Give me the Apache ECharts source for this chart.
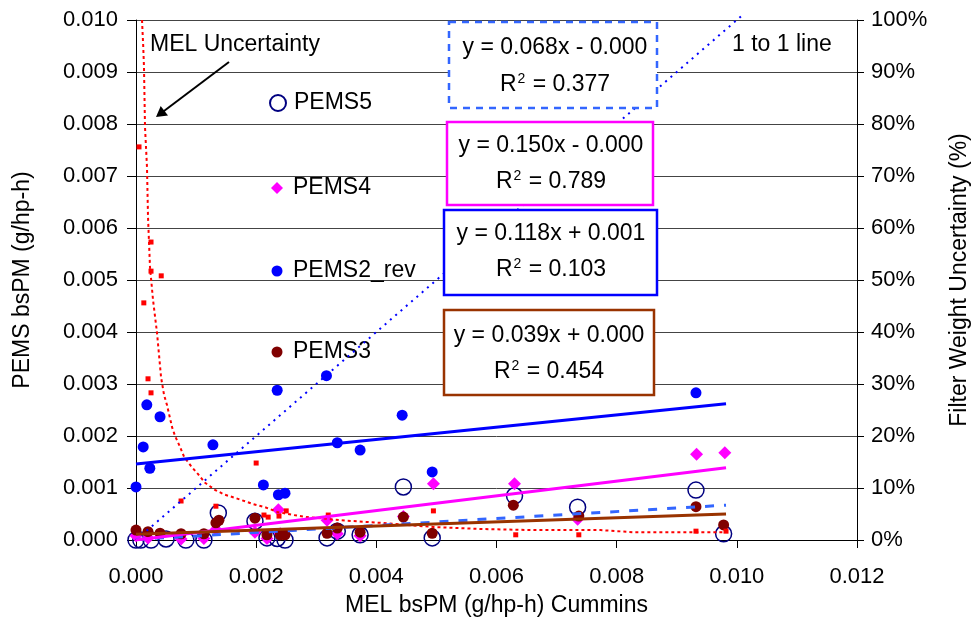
<!DOCTYPE html>
<html>
<head>
<meta charset="utf-8">
<script src="https://cdn.jsdelivr.net/npm/echarts@6.0.0/dist/echarts.min.js"></script>
<style>
  html, body { margin: 0; padding: 0; background: #fff; }
  #chart { width: 977px; height: 633px; }
</style>
</head>
<body>
<div id="chart"></div>
<script>
// PEMS vs MEL bsPM (g/hp-h)
const pems5 = [
  [0.0000, 0.00000], [0.00008, 0.00000], [0.00025, 0.00000], [0.0005, 0.00002],
  [0.00083, 0.00000], [0.00113, 0.00000], [0.00137, 0.00052], [0.00198, 0.00036],
  [0.00218, 0.00004], [0.00235, 0.00003], [0.00248, 0.00000], [0.00318, 0.00004],
  [0.00335, 0.00017], [0.00373, 0.0001], [0.00445, 0.00102], [0.00493, 0.00004],
  [0.0063, 0.00085], [0.00735, 0.00063], [0.00932, 0.00096], [0.00978, 0.00012]
]
const pems4 = [
  [0.0000, 0.00008], [0.0002, 0.00004], [0.00075, 0.00002], [0.00113, 0.00003],
  [0.00133, 0.0002], [0.00198, 0.00015], [0.00218, 0.00003], [0.00237, 0.00058],
  [0.0024, 0.00012], [0.00318, 0.00038], [0.00335, 0.00012], [0.00373, 0.00008],
  [0.00445, 0.00045], [0.00495, 0.00108], [0.0063, 0.00108], [0.00735, 0.0004],
  [0.00933, 0.00165], [0.0098, 0.00168]
]
const pems2rev = [
  [0.0000, 0.00102], [0.00012, 0.00179], [0.00018, 0.0026], [0.00023, 0.00138],
  [0.0004, 0.00237], [0.00128, 0.00183], [0.00212, 0.00106], [0.00235, 0.00288],
  [0.00237, 0.00087], [0.00248, 0.0009], [0.00317, 0.00316], [0.00335, 0.00187],
  [0.00373, 0.00173], [0.00443, 0.0024], [0.00493, 0.00131], [0.00932, 0.00283]
]
const pems3 = [
  [0.0000, 0.00019], [0.0002, 0.00016], [0.0004, 0.00013], [0.00075, 0.00012],
  [0.00113, 0.00012], [0.00133, 0.00033], [0.00138, 0.00038], [0.00198, 0.00042],
  [0.00218, 0.0001], [0.0024, 0.0001], [0.00248, 0.0001], [0.00318, 0.00013],
  [0.00335, 0.00023], [0.00373, 0.00015], [0.00445, 0.00044], [0.00493, 0.00013],
  [0.00628, 0.00067], [0.00737, 0.00046], [0.00932, 0.00064], [0.00978, 0.00029]
]

// trend lines (end points)
const trend5 = [[0, 0.00001], [0.00982, 0.00067]]
const trend4 = [[0, 0.0000], [0.00982, 0.00139]]
const trend2 = [[0, 0.00146], [0.00982, 0.00262]]
const trend3 = [[0, 0.00011], [0.00982, 0.0005]]
const oneToOne = [[0, 0], [0.0101, 0.0101]]

// filter weight uncertainty (%), right axis
const melUncert = [
  [0.00005, 75.6], [0.00013, 45.6], [0.0002, 31], [0.00025, 57.3], [0.00025, 51.7],
  [0.00025, 28.3], [0.00042, 50.8], [0.00075, 7.5], [0.00133, 6.5], [0.002, 14.8],
  [0.00213, 4.8], [0.0022, 4.4], [0.00238, 4.6], [0.0025, 5.6], [0.0032, 4.8],
  [0.00495, 5.6], [0.00632, 1], [0.00737, 1], [0.00932, 1.7], [0.00982, 1.7]
]
const melUncertCurve = [
  [0.0001, 100], [0.00012, 95], [0.000133, 90.9], [0.00015, 79.4], [0.000183, 71.7],
  [0.0002, 62.1], [0.000233, 52.5], [0.000283, 46.2], [0.00035, 39.8], [0.000417, 31.3],
  [0.000467, 27.9], [0.000517, 25.9], [0.0006, 21.7], [0.00065, 20], [0.000733, 17.9],
  [0.0008, 16], [0.000917, 14.2], [0.00103, 12.7], [0.00115, 11], [0.00132, 9.6],
  [0.00148, 8.7], [0.00165, 8.1], [0.00195, 6.9], [0.00215, 6.3], [0.00235, 5.4],
  [0.00262, 4.8], [0.00285, 4.4], [0.00307, 4.2], [0.0034, 3.8], [0.00407, 3.3],
  [0.00495, 2.5], [0.00578, 2.1], [0.00662, 1.9], [0.00773, 1.9], [0.00828, 1.5],
  [0.00978, 1.5]
]

const eqLines = ['y = 0.068x - 0.000', 'y = 0.150x - 0.000', 'y = 0.118x + 0.001', 'y = 0.039x + 0.000']
const r2Values = ['0.377', '0.789', '0.103', '0.454']

const FONT = '"Liberation Sans", Arial, sans-serif'
const font = (s) => s + 'px ' + FONT

// equation boxes
const boxes = [
  { x: 449, y: 22, w: 208, h: 86, stroke: '#3366FF', dash: [7, 6], cx: 555, l1: 48, l2: 85 },
  { x: 447, y: 122, w: 206, h: 83, stroke: '#FF00FF', dash: null, cx: 551, l1: 146, l2: 182 },
  { x: 444, y: 210, w: 213, h: 85, stroke: '#0000FF', dash: null, cx: 551, l1: 234, l2: 270 },
  { x: 444, y: 310, w: 210, h: 85, stroke: '#993300', dash: null, cx: 549, l1: 336, l2: 372 }
]
const graphics = []
boxes.forEach((b, i) => {
  graphics.push({
    type: 'rect', z: 100,
    shape: { x: b.x, y: b.y, width: b.w, height: b.h },
    style: { fill: '#fff', stroke: b.stroke, lineWidth: 2.5, lineDash: b.dash }
  })
  graphics.push({
    type: 'text', z: 101, x: b.cx, y: b.l1,
    style: { text: eqLines[i], font: font(23), fill: '#000', align: 'center', verticalAlign: 'middle' }
  })
  graphics.push({
    type: 'text', z: 101, x: b.cx, y: b.l2,
    style: {
      text: 'R{sup|2} = ' + r2Values[i],
      font: font(23), fill: '#000', align: 'center', verticalAlign: 'middle',
      rich: { sup: { fontSize: 14, fontFamily: FONT, fill: '#000', padding: [0, 1, 12, 1] } }
    }
  })
})
graphics.push({
  type: 'text', z: 101, x: 150, y: 45,
  style: { text: 'MEL Uncertainty', font: font(23), fill: '#000', align: 'left', verticalAlign: 'middle' }
})
graphics.push({
  type: 'text', z: 101, x: 732, y: 45,
  style: { text: '1 to 1 line', font: font(23), fill: '#000', align: 'left', verticalAlign: 'middle' }
})
// arrow to the uncertainty curve
graphics.push({
  type: 'line', z: 101,
  shape: { x1: 229, y1: 62, x2: 160, y2: 114 },
  style: { stroke: '#000', lineWidth: 2 }
})
graphics.push({
  type: 'polygon', z: 101,
  shape: { points: [[156, 117], [168, 115.5], [160.7, 106]] },
  style: { fill: '#000' }
})

const chart = echarts.init(document.getElementById('chart'), null, { renderer: 'canvas' })

// one legend per entry so each row sits where it does in the picture
const legendItem = (name, center, size) => ({
  data: [name],
  left: 277 - size / 2,
  top: center - 11.5,
  padding: 0,
  itemWidth: size,
  itemHeight: size,
  textStyle: { fontFamily: FONT, fontSize: 23, color: '#000', padding: [0, 0, 0, 11 - size / 2] },
  selectedMode: false
})

chart.setOption({
  backgroundColor: '#fff',
  animation: false,
  grid: { left: 136, right: 120, top: 20, bottom: 93, containLabel: false, outerBoundsMode: 'none' },
  legend: [
    legendItem('PEMS5', 103, 16),
    legendItem('PEMS4', 188, 12),
    legendItem('PEMS2_rev', 271, 11),
    legendItem('PEMS3', 352, 11)
  ],
  xAxis: {
    type: 'value',
    min: 0, max: 0.012, interval: 0.002,
    name: 'MEL bsPM (g/hp-h) Cummins',
    nameLocation: 'middle',
    nameGap: 54,
    nameTextStyle: { fontFamily: FONT, fontSize: 23, color: '#000' },
    axisLine: { show: true, onZero: false, lineStyle: { color: '#000', width: 1 } },
    axisTick: { show: true, inside: false, length: 8, lineStyle: { color: '#000' } },
    axisLabel: {
      fontFamily: FONT, fontSize: 22, color: '#000', margin: 26,
      formatter: (v) => v.toFixed(3)
    },
    splitLine: { show: false }
  },
  yAxis: [
    {
      type: 'value',
      min: 0, max: 0.01, interval: 0.001,
      name: 'PEMS bsPM (g/hp-h)',
      nameLocation: 'middle',
      nameRotate: 90,
      nameGap: 102,
      nameTextStyle: { fontFamily: FONT, fontSize: 23, color: '#000' },
      axisLine: { show: true, onZero: false, lineStyle: { color: '#000', width: 1 } },
      axisTick: { show: true, inside: false, length: 9, lineStyle: { color: '#000' } },
      axisLabel: {
        fontFamily: FONT, fontSize: 22, color: '#000', margin: 18,
        formatter: (v) => v.toFixed(3)
      },
      splitLine: { show: true, lineStyle: { color: '#444', width: 1 } }
    },
    {
      type: 'value',
      position: 'right',
      min: 0, max: 100, interval: 10,
      name: 'Filter Weight Uncertainty (%)',
      nameLocation: 'middle',
      nameRotate: 90,
      nameGap: 91,
      nameTextStyle: { fontFamily: FONT, fontSize: 23, color: '#000' },
      axisLine: { show: true, onZero: false, lineStyle: { color: '#000', width: 1 } },
      axisTick: { show: true, inside: false, length: 7, lineStyle: { color: '#000' } },
      axisLabel: {
        fontFamily: FONT, fontSize: 22, color: '#000', margin: 14,
        formatter: (v) => v + '%'
      },
      splitLine: { show: false }
    }
  ],
  series: [
    {
      name: 'PEMS5', type: 'scatter', data: pems5, z: 3,
      symbol: 'circle', symbolSize: 16,
      itemStyle: { color: 'rgba(255,255,255,0)', borderColor: '#000080', borderWidth: 1.5, opacity: 1 }
    },
    {
      name: 'PEMS4', type: 'scatter', data: pems4, z: 4,
      symbol: 'diamond', symbolSize: 13,
      itemStyle: { color: '#FF00FF', opacity: 1 }
    },
    {
      name: 'PEMS2_rev', type: 'scatter', data: pems2rev, z: 5,
      symbol: 'circle', symbolSize: 11,
      itemStyle: { color: '#0000FF', opacity: 1 }
    },
    {
      name: 'PEMS3', type: 'scatter', data: pems3, z: 6,
      symbol: 'circle', symbolSize: 11,
      itemStyle: { color: '#800000', opacity: 1 }
    },
    {
      name: 'MEL Uncertainty', type: 'scatter', data: melUncert, yAxisIndex: 1, z: 7,
      symbol: 'rect', symbolSize: 5,
      itemStyle: { color: '#FF0000', opacity: 1 }
    },
    {
      name: 'MEL Uncertainty fit', type: 'line', data: melUncertCurve, yAxisIndex: 1, z: 8,
      showSymbol: false, smooth: false,
      lineStyle: { color: '#FF0000', width: 2, type: [3, 3] }
    },
    {
      name: '1 to 1', type: 'line', data: oneToOne, z: 8, clip: false,
      showSymbol: false,
      lineStyle: { color: '#0000FF', width: 2, type: [2, 5] }
    },
    {
      name: 'PEMS5 trend', type: 'line', data: trend5, z: 9, showSymbol: false,
      lineStyle: { color: '#3366FF', width: 3, type: [9, 10] }
    },
    {
      name: 'PEMS4 trend', type: 'line', data: trend4, z: 9, showSymbol: false,
      lineStyle: { color: '#FF00FF', width: 3 }
    },
    {
      name: 'PEMS2_rev trend', type: 'line', data: trend2, z: 9, showSymbol: false,
      lineStyle: { color: '#0000FF', width: 3 }
    },
    {
      name: 'PEMS3 trend', type: 'line', data: trend3, z: 9, showSymbol: false,
      lineStyle: { color: '#993300', width: 3 }
    }
  ],
  graphic: graphics
})
</script>
</body>
</html>
